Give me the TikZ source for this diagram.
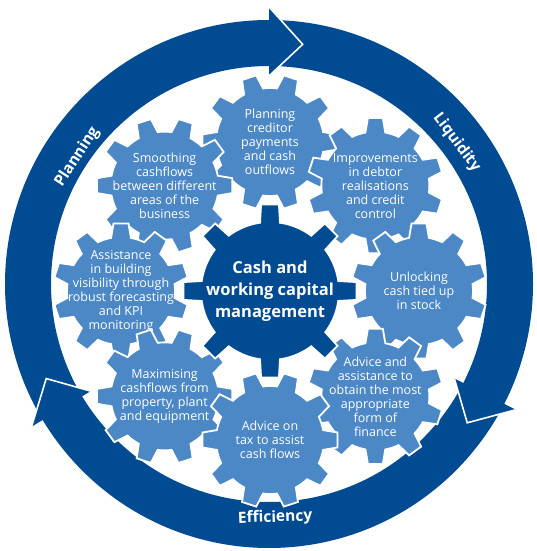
\documentclass[tikz,border=0pt]{standalone}
\usepackage{fontspec}
\setmainfont{Open Sans}
\usetikzlibrary{calc}
\definecolor{ringblue}{HTML}{004B91}
\definecolor{cogblue}{HTML}{4C88C6}

\begin{document}
\begin{tikzpicture}[x=1pt, y=1pt,
  band/.style={fill=ringblue},
  notch/.style={draw=white, line width=1.6pt},
  cogshape/.style={fill=cogblue, draw=white, line width=1.8pt},
  hubshape/.style={fill=ringblue, draw=white, line width=1.8pt},
  cogtxt/.style={text=white, align=center, inner sep=0pt, font=\fontsize{12.5}{14}\selectfont},
  hubtxt/.style={text=white, align=center, inner sep=0pt, font=\bfseries\fontsize{16.5}{22}\selectfont},
  lbl/.style={text=white, inner sep=0pt, font=\bfseries\fontsize{15.5}{18}\selectfont},
  % small cog: 10 teeth
  cog/.pic={
    \path[cogshape] (-10.6:54) foreach \t in {0,36,...,324} {
      -- (\t-10.6:54) -- (\t-6.3:68) -- (\t+6.3:68) -- (\t+10.6:54)
      arc[start angle=\t+10.6, end angle=\t+25.4, radius=54]} -- cycle;
  },
  % big cog in the middle: 8 teeth
  hub/.pic={
    \path[hubshape] (-8.3:69) foreach \t in {0,45,...,315} {
      -- (\t-8.3:69) -- (\t-5.9:87) -- (\t+5.9:87) -- (\t+8.3:69)
      arc[start angle=\t+8.3, end angle=\t+36.7, radius=69]} -- cycle;
  }]
\useasboundingbox (0,0) rectangle (536,551);
\coordinate (O) at (269,267);   % centre of the ring
\coordinate (C) at (270,260);   % centre of the hub

% ring, cut into three arrows
\fill[band, even odd rule] (O) circle[radius=264] (O) circle[radius=218];
\foreach \w in {90,-27,211} {
  \fill[band, shift={(O)}] (\w:277) -- (\w-8:242) -- (\w:208) -- cycle;
  \draw[notch, shift={(O)}] (\w:277) -- (\w-8:242) -- (\w:208);
}
\node[lbl, rotate=57] (pl) at ($(O)+(146.5:230)$) {Planning};
\node[lbl, rotate=-53] (lq) at ($(O)+(37:235)$) {Liquidity};
\node[lbl, rotate=2] (ef) at ($(O)+(-88.5:234)$) {Efficiency};

% cogs round the hub
\foreach \a/\r/\txt [count=\i] in {
  90/0/{Planning\\creditor\\payments\\and cash\\outflows},
  135/0/{Smoothing\\cashflows\\between different\\areas of the\\business},
  45/18/{Improvements\\in debtor\\realisations\\and credit\\control},
  180/18/{Assistance\\in building\\visibility through\\robust forecasting\\and KPI\\monitoring},
  0/18/{Unlocking\\cash tied up\\in stock},
  225/0/{Maximising\\cashflows from\\property, plant\\and equipment},
  315/18/{Advice and\\assistance to\\obtain the most\\appropriate\\form of\\finance},
  270/0/{Advice on\\tax to assist\\cash flows}}
{
  \pic[rotate=\r] at ($(C)+(\a:149)$) {cog};
  \node[cogtxt] (g\i) at ($(C)+(\a:149)$) {\txt};
}

\pic at (C) {hub};
\node[hubtxt] (cg) at (C) {Cash and\\working capital\\management};
\end{tikzpicture}
\end{document}
